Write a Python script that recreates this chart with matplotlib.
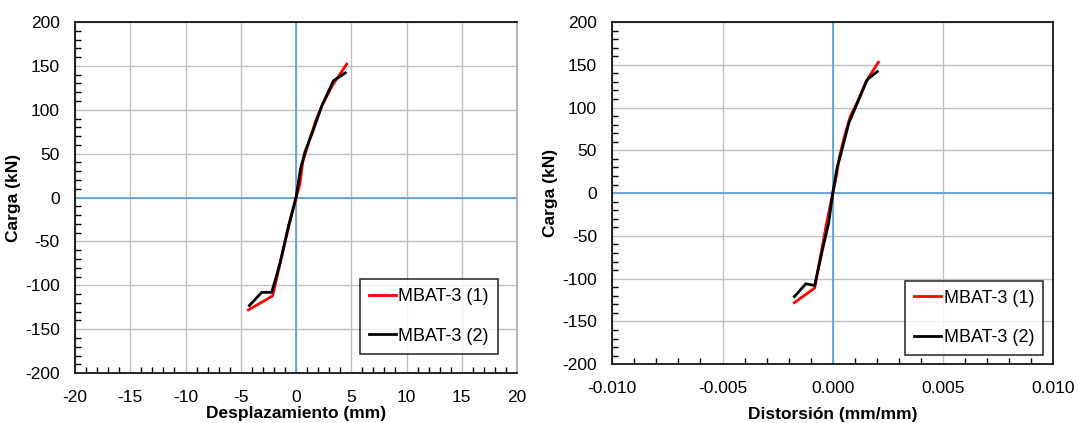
import matplotlib.pyplot as plt
from matplotlib.ticker import MultipleLocator, FormatStrFormatter

plt.rcParams['font.family'] = ['Liberation Sans', 'DejaVu Sans']
plt.rcParams['axes.unicode_minus'] = False

# Curva carga-desplazamiento
disp_1 = [-4.31, -2.11, -1.5, -0.7, 0.0, 0.35, 0.6, 1.2, 1.8, 2.4, 3.3, 4.59]
carga_1 = [-128, -112, -78, -35, 0, 15, 40, 65, 88, 106, 128, 152]
disp_2 = [-4.22, -3.1, -2.2, -1.45, -0.69, 0.0, 0.4, 0.81, 1.57, 2.32, 3.38, 4.46]
carga_2 = [-123, -108, -108, -75, -33, 0, 32, 52, 77, 104, 133, 142]

# Curva carga-distorsion
dist_1 = [-0.00174, -0.00082, -0.00060, -0.00030, 0.0, 0.00015, 0.00030, 0.00055, 0.00080, 0.00111, 0.00150, 0.00207]
cargd_1 = [-128, -111, -80, -38, 0, 18, 42, 68, 90, 106, 130, 153]
dist_2 = [-0.00174, -0.00122, -0.00082, -0.00049, -0.00018, 0.0, 0.00020, 0.00042, 0.00073, 0.00111, 0.00157, 0.00202]
cargd_2 = [-121, -106, -108, -69, -34, 0, 30, 51, 82, 105, 133, 142]

labels = ['MBAT-3 (1)', 'MBAT-3 (2)']


def style_axes(ax, xlim, xmajor, xminor, xlabel, xlabelpad):
    ax.set_xlim(xlim)
    ax.set_ylim(-200, 200)
    ax.xaxis.set_major_locator(MultipleLocator(xmajor))
    ax.xaxis.set_minor_locator(MultipleLocator(xminor))
    ax.yaxis.set_major_locator(MultipleLocator(50))
    ax.yaxis.set_minor_locator(MultipleLocator(10))
    ax.tick_params(which='both', direction='in', labelsize=12.5, top=False, right=False)
    ax.tick_params(which='major', length=0)
    ax.tick_params(axis='x', which='major', pad=12)
    ax.tick_params(axis='y', which='major', pad=11)
    ax.tick_params(which='minor', length=4, width=1)
    ax.grid(True, which='major', color='#BFBFBF', lw=1)
    ax.set_axisbelow(True)
    ax.axhline(0, color='#5B9BD5', lw=1.2, zorder=1)
    ax.axvline(0, color='#5B9BD5', lw=1.2, zorder=1)
    for s in ax.spines.values():
        s.set_color('black')
        s.set_linewidth(1.2)
    ax.set_xlabel(xlabel, fontsize=12.5, fontweight='bold', labelpad=xlabelpad)
    ax.set_ylabel('Carga (kN)', fontsize=12.5, fontweight='bold', labelpad=3)


def add_legend(ax, anchor):
    leg = ax.legend(loc='lower right', bbox_to_anchor=anchor, fontsize=13,
                    frameon=True, fancybox=False, handlelength=1.5, handletextpad=0.15,
                    labelspacing=1.25, borderpad=0.5, borderaxespad=0)
    leg.get_frame().set_edgecolor('black')
    leg.get_frame().set_linewidth(1.2)


fig = plt.figure(figsize=(10.78, 4.23), dpi=100)
ax1 = fig.add_axes([0.0696, 0.118, 0.41, 0.830])
ax2 = fig.add_axes([0.568, 0.139, 0.409, 0.809])

ax1.plot(disp_1, carga_1, color='#FF0000', lw=2, label=labels[0], zorder=3)
ax1.plot(disp_2, carga_2, color='black', lw=2, label=labels[1], zorder=4)
style_axes(ax1, (-20, 20), 5, 1, 'Desplazamiento (mm)', 1)
ax1.spines['right'].set_color('#A6A6A6')
add_legend(ax1, (0.957, 0.055))

ax2.plot(dist_1, cargd_1, color='#FF0000', lw=2, label=labels[0], zorder=3)
ax2.plot(dist_2, cargd_2, color='black', lw=2, label=labels[1], zorder=4)
style_axes(ax2, (-0.01, 0.01), 0.005, 0.001, 'Distorsión (mm/mm)', 8)
ax2.xaxis.set_major_formatter(FormatStrFormatter('%.3f'))
add_legend(ax2, (0.977, 0.026))

fig.savefig('out.png', dpi=100)
